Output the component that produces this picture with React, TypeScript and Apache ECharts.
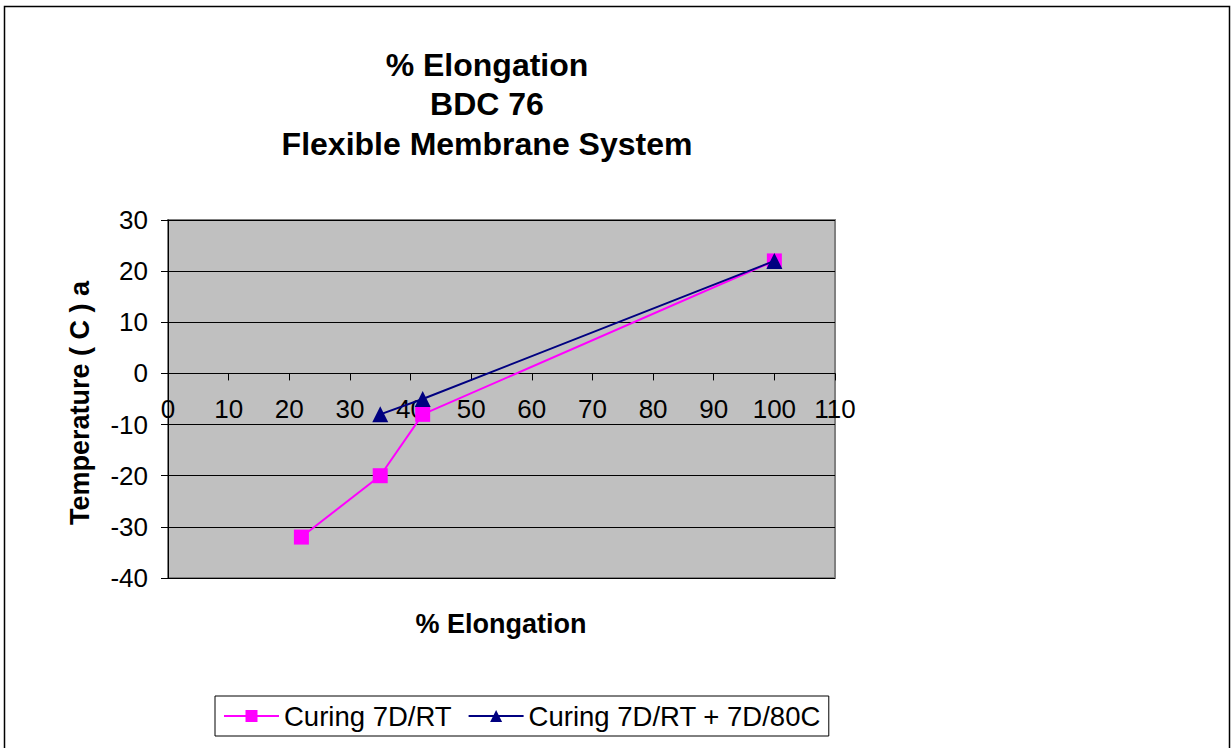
import React, { useEffect, useRef } from "react";
import * as echarts from "echarts";

const titleLines = ["% Elongation", "BDC 76", "Flexible Membrane System"];
const xAxisName = "% Elongation";
const yAxisName = "Temperature ( C ) a";

const seriesNames = ["Curing 7D/RT", "Curing 7D/RT + 7D/80C"];
const rtElongation = [22, 35, 42, 100];
const rtTemperature = [-32, -20, -8, 22];
const rt80Elongation = [35, 42, 100];
const rt80Temperature = [-8, -5, 22];

const FONT = "'Liberation Sans', Arial, sans-serif";

const GRID_TOP = 220;
const GRID_HEIGHT = 358;
const Y_MIN = -40;
const Y_MAX = 30;

export default function App() {
  const ref = useRef<HTMLDivElement>(null);
  useEffect(() => {
    if (!ref.current) return;
    const chart = echarts.init(ref.current, null, { renderer: "svg" });
    const toPairs = (xs: number[], ys: number[]) => xs.map((x, i) => [x, ys[i]]);
    // x axis crosses the y axis at 0: shift it up from the grid bottom
    const zeroOffset = -(GRID_HEIGHT * (0 - Y_MIN)) / (Y_MAX - Y_MIN);
    chart.setOption({
      animation: false,
      backgroundColor: "#ffffff",
      textStyle: { fontFamily: FONT },
      grid: {
        left: 168,
        top: GRID_TOP,
        width: 667,
        height: GRID_HEIGHT,
        show: true,
        backgroundColor: "#c0c0c0",
        borderColor: "#808080",
        borderWidth: 2,
      },
      xAxis: {
        type: "value",
        min: 0,
        max: 110,
        interval: 10,
        position: "bottom",
        offset: zeroOffset,
        axisLine: { onZero: false, lineStyle: { color: "#000", width: 1 } },
        axisTick: { show: true, inside: false, length: 7, lineStyle: { color: "#000" } },
        axisLabel: { color: "#000", fontSize: 26, fontFamily: FONT, margin: 23 },
        splitLine: { show: false },
      },
      yAxis: {
        type: "value",
        min: Y_MIN,
        max: Y_MAX,
        interval: 10,
        axisLine: { show: true, onZero: false, lineStyle: { color: "#000", width: 1 } },
        axisTick: { show: true, inside: false, length: 7, lineStyle: { color: "#000" } },
        axisLabel: { color: "#000", fontSize: 26, fontFamily: FONT, margin: 20 },
        splitLine: { show: true, lineStyle: { color: "#000", width: 1 } },
      },
      legend: {
        left: 215,
        top: 696,
        orient: "horizontal",
        borderColor: "#000",
        borderWidth: 1,
        padding: [6, 8, 6, 8],
        itemWidth: 55,
        itemHeight: 15,
        itemGap: 16,
        textStyle: { color: "#000", fontSize: 27.5, fontFamily: FONT },
        data: seriesNames,
      },
      series: [
        {
          name: seriesNames[0],
          type: "line",
          data: toPairs(rtElongation, rtTemperature),
          symbol: "rect",
          symbolSize: 15,
          itemStyle: { color: "#ff00ff" },
          lineStyle: { color: "#ff00ff", width: 2 },
          z: 2,
        },
        {
          name: seriesNames[1],
          type: "line",
          data: toPairs(rt80Elongation, rt80Temperature),
          symbol: "triangle",
          symbolSize: 16,
          itemStyle: { color: "#000080" },
          lineStyle: { color: "#000080", width: 2 },
          z: 3,
        },
      ],
      graphic: [
        {
          type: "rect",
          shape: { x: 4.5, y: 6.5, width: 1225, height: 780 },
          style: { fill: "none", stroke: "#000", lineWidth: 1.5 },
          silent: true,
        },
        {
          type: "text",
          x: 487,
          y: 45,
          style: {
            text: titleLines.join("\n"),
            fontSize: 32,
            fontWeight: "bold",
            fontFamily: FONT,
            lineHeight: 39.5,
            fill: "#000",
            textAlign: "center",
            textVerticalAlign: "top",
          },
        },
        {
          type: "text",
          x: 501,
          y: 624,
          style: {
            text: xAxisName,
            fontSize: 27,
            fontWeight: "bold",
            fontFamily: FONT,
            fill: "#000",
            textAlign: "center",
            textVerticalAlign: "middle",
          },
        },
        {
          type: "text",
          x: 80,
          y: 403,
          rotation: Math.PI / 2,
          style: {
            text: yAxisName,
            fontSize: 27,
            fontWeight: "bold",
            fontFamily: FONT,
            fill: "#000",
            textAlign: "center",
            textVerticalAlign: "middle",
          },
        },
      ],
    });
    return () => chart.dispose();
  }, []);
  return (
    <div
      ref={ref}
      style={{ position: "absolute", left: 0, top: 0, width: 1231, height: 748 }}
    />
  );
}
